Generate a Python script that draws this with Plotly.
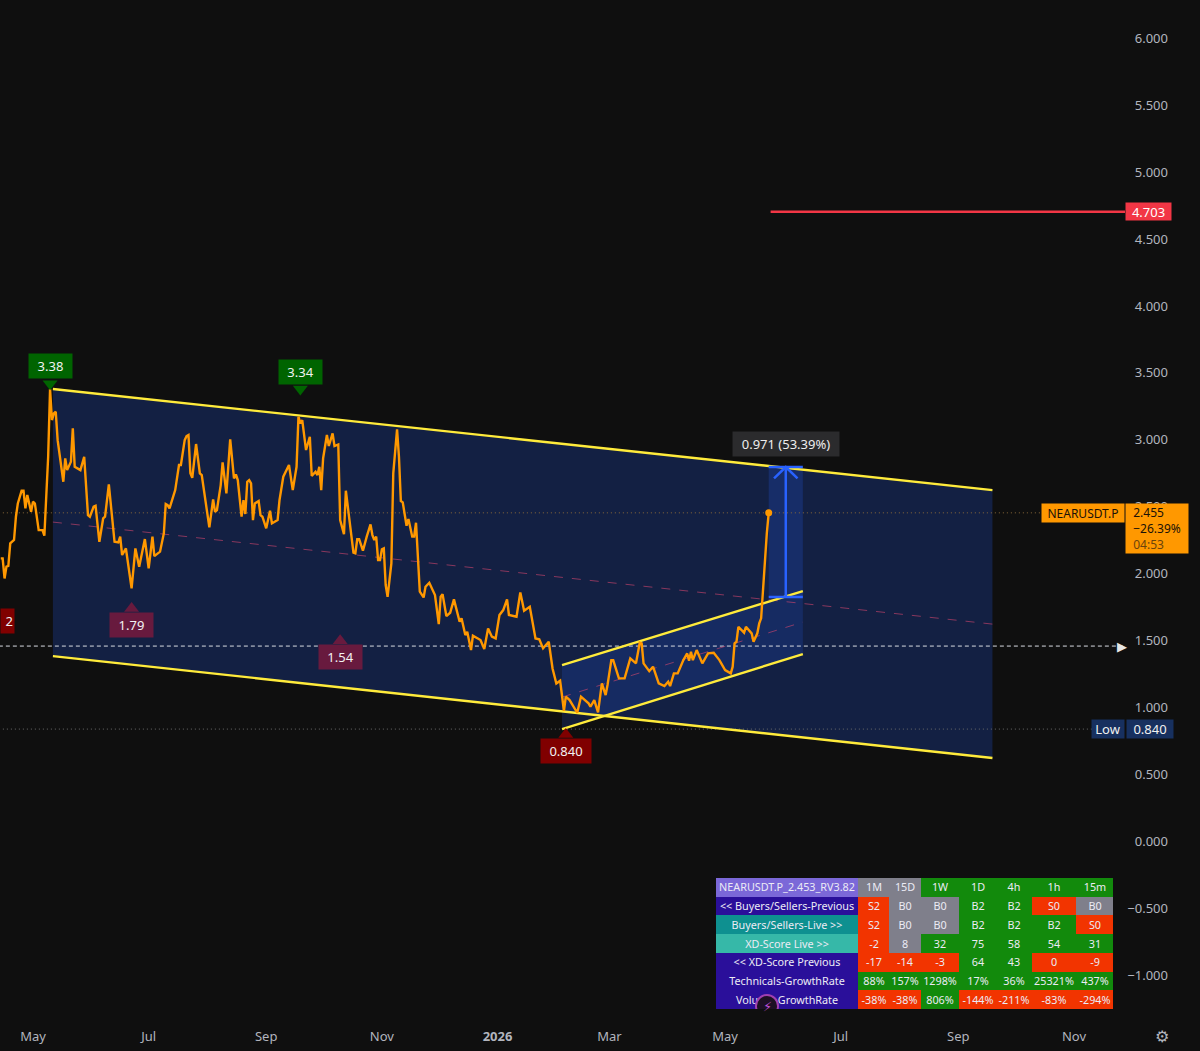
import pandas as pd
import plotly.graph_objects as go

# chart dimensions
W = 1200
H = 1051
START = pd.Timestamp("2025-05-01")

BG = "#0f0f0f"
ORANGE = "#ff9800"
YELLOW = "#ffeb3b"
BLUE = "#2962ff"
AXIS_TEXT = "#b2b5be"
FONT = "Noto Sans"

# closing price, day = days since 2025-05-01
line_days = [
    -17, -16, -15, -14, -13, -12, -10, -9, -8, -6, -5, -4, -3, -1, 0, 1, 3, 5, 6, 8, 9, 10, 11, 12, 13, 16, 17, 18,
    20, 21, 22, 25, 27, 29, 30, 32, 33, 35, 37, 38, 40, 43, 45, 46, 47, 49, 52, 54, 56, 59, 61, 63, 64, 67, 69, 70,
    71, 72, 75, 77, 78, 80, 81, 82, 83, 84, 86, 88, 89, 93, 95, 96, 97, 99, 100, 102, 104, 106, 107, 108, 110, 111,
    112, 113, 114, 115, 116, 117, 119, 120, 121, 123, 125, 126, 129, 130, 132, 135, 137, 139, 140, 141, 142, 144,
    146, 147, 149, 150, 151, 152, 153, 155, 156, 158, 159, 161, 162, 164, 165, 167, 169, 170, 171, 172, 174, 176,
    178, 179, 180, 181, 182, 183, 184, 185, 186, 187, 189, 190, 192, 193, 194, 195, 197, 198, 200, 201, 202, 204,
    206, 207, 209, 212, 214, 215, 216, 218, 220, 222, 225, 226, 228, 229, 231, 232, 236, 238, 240, 242, 244, 246,
    248, 250, 251, 255, 257, 259, 262, 265, 267, 269, 272, 274, 276, 278, 279, 280, 281, 283, 287, 289, 293, 294,
    296, 298, 300, 302, 303, 305, 306, 309, 312, 315, 318, 320, 321, 322, 325, 327, 330, 333, 335, 336, 338, 340,
    343, 345, 346, 347, 348, 350, 353, 356, 359, 362, 365, 368, 369, 370, 371, 372, 375, 376, 379, 380, 382, 383,
    384, 385, 386, 387, 388,
]
line_prices = [
    2.115, 2.115, 1.965, 2.053, 2.058, 2.227, 2.252, 2.426, 2.525, 2.620, 2.620, 2.488, 2.588, 2.463, 2.538, 2.525,
    2.326, 2.326, 2.284, 2.874, 3.380, 3.148, 3.198, 3.210, 2.998, 2.687, 2.862, 2.774, 2.837, 3.086, 2.799, 2.774,
    2.874, 2.438, 2.426, 2.501, 2.508, 2.239, 2.413, 2.426, 2.667, 2.239, 2.234, 2.277, 2.140, 2.189, 1.891, 2.189,
    2.053, 2.259, 2.040, 2.277, 2.132, 2.165, 2.301, 2.521, 2.513, 2.488, 2.625, 2.812, 2.812, 2.998, 3.028, 3.036,
    2.750, 2.717, 2.969, 2.750, 2.737, 2.346, 2.555, 2.463, 2.476, 2.662, 2.832, 2.600, 3.004, 2.712, 2.742, 2.700,
    2.426, 2.550, 2.446, 2.687, 2.700, 2.675, 2.401, 2.525, 2.543, 2.438, 2.426, 2.339, 2.471, 2.376, 2.401, 2.550,
    2.725, 2.812, 2.625, 2.799, 3.173, 3.123, 3.148, 2.924, 3.023, 2.730, 2.762, 2.737, 2.799, 2.625, 2.862, 3.036,
    2.954, 3.048, 2.954, 2.966, 2.401, 2.296, 2.620, 2.389, 2.157, 2.152, 2.259, 2.259, 2.172, 2.277, 2.369, 2.289,
    2.252, 2.277, 2.102, 2.102, 2.182, 2.189, 1.916, 1.828, 2.077, 2.750, 3.078, 2.874, 2.543, 2.533, 2.359, 2.409,
    2.277, 2.277, 2.381, 1.866, 1.823, 1.903, 1.933, 1.841, 1.624, 1.828, 1.848, 1.684, 1.709, 1.809, 1.642, 1.667,
    1.542, 1.567, 1.430, 1.537, 1.505, 1.438, 1.592, 1.530, 1.517, 1.692, 1.729, 1.809, 1.692, 1.679, 1.861, 1.724,
    1.754, 1.517, 1.510, 1.443, 1.492, 1.293, 1.181, 1.201, 1.082, 0.977, 1.082, 1.057, 0.962, 1.082, 1.032, 1.007,
    1.057, 0.965, 1.181, 1.094, 1.169, 1.355, 1.355, 1.219, 1.219, 1.368, 1.331, 1.485, 1.480, 1.331, 1.273, 1.306,
    1.181, 1.161, 1.194, 1.161, 1.256, 1.256, 1.355, 1.405, 1.351, 1.418, 1.355, 1.430, 1.331, 1.405, 1.410, 1.355,
    1.281, 1.256, 1.306, 1.480, 1.492, 1.604, 1.560, 1.604, 1.555, 1.492, 1.555, 1.629, 1.667, 1.903, 2.077, 2.301,
    2.455,
]

# big falling channel
big_days = [10.5, 506]
big_top = [3.38, 2.625]
big_bottom = [1.385, 0.624]
big_mid = [2.386, 1.624]

# small rising channel
small_days = [279, 406]
small_top = [1.318, 1.87]
small_bottom = [0.84, 1.40]
small_mid = [1.079, 1.639]

# price range tool
range_days = [388, 406]
range_low = 1.826
range_high = 2.797

last_price = 2.455
alert_price = 4.703
alert_start_day = 389
dashed_price = 1.46
low_price = 0.84

# high / low flags
flag_text = ["3.38", "3.34", "1.79", "1.54", "0.840"]
flag_days = [9, 141, 52, 162, 281]
flag_prices = [3.55, 3.505, 1.62, 1.38, 0.68]
flag_tip_prices = [3.42, 3.38, 1.74, 1.50, 0.80]
flag_up = [False, False, True, True, True]
flag_colors = ["#006400", "#006400", "#681a3e", "#681a3e", "#800000"]
flag_widths = [41, 41, 41, 41, 48]

# x ticks
xtick_dates = ["2025-05-01", "2025-07-01", "2025-09-01", "2025-11-01", "2026-01-01",
               "2026-03-01", "2026-05-01", "2026-07-01", "2026-09-01", "2026-11-01"]
xtick_text = ["May", "Jul", "Sep", "Nov", "<b>2026</b>", "Mar", "May", "Jul", "Sep", "Nov"]

# y ticks
ytick_vals = [6, 5.5, 5, 4.5, 4, 3.5, 3, 2.5, 2, 1.5, 1, 0.5, 0, -0.5, -1]
ytick_text = ["6.000", "5.500", "5.000", "4.500", "4.000", "3.500", "3.000", "2.500", "2.000", "1.500",
              "1.000", "0.500", "0.000", "\u22120.500", "\u22121.000"]

# table
table_text = [
    ["NEARUSDT.P_2.453_RV3.82", "1M", "15D", "1W", "1D", "4h", "1h", "15m"],
    ["&lt;&lt; Buyers/Sellers-Previous", "S2", "B0", "B0", "B2", "B2", "S0", "B0"],
    ["Buyers/Sellers-Live &gt;&gt;", "S2", "B0", "B0", "B2", "B2", "B2", "S0"],
    ["XD-Score Live &gt;&gt;", "-2", "8", "32", "75", "58", "54", "31"],
    ["&lt;&lt; XD-Score Previous", "-17", "-14", "-3", "64", "43", "0", "-9"],
    ["Technicals-GrowthRate", "88%", "157%", "1298%", "17%", "36%", "25321%", "437%"],
    ["Volume-GrowthRate", "-38%", "-38%", "806%", "-144%", "-211%", "-83%", "-294%"],
]
table_state = [
    ["head", "grey", "grey", "up", "up", "up", "up", "up"],
    ["navy", "down", "grey", "grey", "up", "up", "down", "grey"],
    ["teal", "down", "grey", "grey", "up", "up", "up", "down"],
    ["aqua", "down", "grey", "up", "up", "up", "up", "up"],
    ["navy", "down", "down", "down", "up", "up", "down", "down"],
    ["navy", "up", "up", "up", "up", "up", "up", "up"],
    ["navy", "down", "down", "up", "down", "down", "down", "down"],
]
state_colors = {
    "head": "#7b68d8",
    "navy": "#2a0f9a",
    "teal": "#0e9090",
    "aqua": "#36b8a8",
    "grey": "#7f7f8b",
    "down": "#f23400",
    "up": "#128a0c",
}
col_edges = [0, 142, 173, 205, 243, 280, 316, 360, 397]
row_edges = [0, 1, 2, 3, 4, 5, 6, 7]


def to_date(day):
    return START + pd.Timedelta(days=day)


def to_dates(days):
    return [to_date(d) for d in days]


fig = go.Figure()

# channel fills
fig.add_trace(go.Scatter(
    x=to_dates(big_days + big_days[::-1]), y=big_top + big_bottom[::-1],
    mode="lines", line=dict(width=0), fill="toself", fillcolor="#132043", hoverinfo="skip",
))
fig.add_trace(go.Scatter(
    x=to_dates(small_days + small_days[::-1]), y=small_top + small_bottom[::-1],
    mode="lines", line=dict(width=0), fill="toself", fillcolor="rgba(41,98,255,0.17)", hoverinfo="skip",
))
fig.add_trace(go.Scatter(
    x=to_dates([range_days[0], range_days[1], range_days[1], range_days[0]]),
    y=[range_low, range_low, range_high, range_high],
    mode="lines", line=dict(width=0), fill="toself", fillcolor="rgba(41,98,255,0.2)", hoverinfo="skip",
))

# horizontal levels
for price, color, dash in [(last_price, "#8a6a3a", "1px,3px"), (low_price, "#6a6a6a", "1px,3px"), (dashed_price, "#d8dbe2", "4px,3px")]:
    fig.add_trace(go.Scatter(
        x=to_dates([-18, 576]), y=[price, price], mode="lines",
        line=dict(color=color, width=1, dash=dash), hoverinfo="skip",
    ))
fig.add_trace(go.Scatter(
    x=to_dates([alert_start_day, 576]), y=[alert_price, alert_price], mode="lines",
    line=dict(color="#f23645", width=2.5), hoverinfo="skip",
))

# channel lines
for days, top, bottom, mid in [(big_days, big_top, big_bottom, big_mid), (small_days, small_top, small_bottom, small_mid)]:
    fig.add_trace(go.Scatter(x=to_dates(days), y=mid, mode="lines",
                             line=dict(color="rgba(214,70,110,0.6)", width=1, dash="dash"), hoverinfo="skip"))
    fig.add_trace(go.Scatter(x=to_dates(days), y=top, mode="lines", line=dict(color=YELLOW, width=2.4), hoverinfo="skip"))
    fig.add_trace(go.Scatter(x=to_dates(days), y=bottom, mode="lines", line=dict(color=YELLOW, width=2.4), hoverinfo="skip"))

# price line
fig.add_trace(go.Scatter(
    x=to_dates(line_days), y=line_prices, mode="lines",
    line=dict(color=ORANGE, width=2.4), hoverinfo="skip",
))
fig.add_trace(go.Scatter(
    x=[to_date(line_days[-1])], y=[line_prices[-1]], mode="markers",
    marker=dict(color=ORANGE, size=7), hoverinfo="skip",
))

# measure arrow
mid_day = (range_days[0] + range_days[1]) / 2
for xs, ys in [
    ([mid_day, mid_day], [range_low, range_high]),
    (range_days, [range_low, range_low]),
    (range_days, [range_high, range_high]),
    ([mid_day - 6.2, mid_day, mid_day + 6.2], [range_high - 0.085, range_high, range_high - 0.085]),
]:
    fig.add_trace(go.Scatter(x=to_dates(xs), y=ys, mode="lines", line=dict(color=BLUE, width=2.5), hoverinfo="skip"))

# flag pointers
fig.add_trace(go.Scatter(
    x=to_dates(flag_days), y=flag_tip_prices, mode="markers", hoverinfo="skip",
    marker=dict(color=flag_colors, size=13, symbol=["triangle-up" if u else "triangle-down" for u in flag_up]),
))

# indicator table
codes = list(state_colors)
steps = len(codes) - 1
colorscale = []
for i, name in enumerate(codes):
    colorscale.append([i / (steps + 1), state_colors[name]])
    colorscale.append([(i + 1) / (steps + 1), state_colors[name]])
fig.add_trace(go.Heatmap(
    x=col_edges, y=row_edges, z=[[codes.index(s) for s in row] for row in table_state],
    zmin=-0.5, zmax=steps + 0.5, colorscale=colorscale, showscale=False,
    text=table_text, texttemplate="%{text}", textfont=dict(family=FONT, size=10.8, color="#ecebf5"),
    hoverinfo="skip", xaxis="x2", yaxis="y2",
))

# round badge over the table
fig.add_trace(go.Scatter(
    x=[51], y=[6.84], mode="markers", hoverinfo="skip", xaxis="x2", yaxis="y2",
    marker=dict(color="#1d1024", size=22, line=dict(color="#a040b0", width=2)),
))

annotations = []
for text, day, price, color, width in zip(flag_text, flag_days, flag_prices, flag_colors, flag_widths):
    annotations.append(dict(
        x=to_date(day), y=price, xref="x", yref="y", text=text, showarrow=False,
        bgcolor=color, width=width, height=22, font=dict(family=FONT, size=13, color="#f2f2f2"),
    ))
# flag cut off by the left edge
annotations.append(dict(
    x=to_date(-17.3), y=1.65, xref="x", yref="y", xanchor="left", text="2", showarrow=False, align="right",
    bgcolor="#800000", width=11, height=22, font=dict(family=FONT, size=13, color="#f2f2f2"),
))
annotations.append(dict(
    x=to_date(mid_day), y=2.969, xref="x", yref="y", text="0.971 (53.39%)", showarrow=False,
    bgcolor="#2b2b2d", width=104, height=22, font=dict(family=FONT, size=13, color="#eeeeee"),
))
annotations.append(dict(
    x=1125 / W, y=alert_price, xref="paper", yref="y", xanchor="left", text="4.703", showarrow=False,
    bgcolor="#f23645", width=43, height=15, font=dict(family=FONT, size=13, color="#ffffff"),
))
annotations.append(dict(
    x=1125 / W, y=last_price, xref="paper", yref="y", xanchor="right", text="NEARUSDT.P", showarrow=False,
    bgcolor=ORANGE, width=80, height=16, font=dict(family=FONT, size=12, color="#1a1208"),
))
annotations.append(dict(
    x=1125 / W, y=last_price, xref="paper", yref="y", xanchor="left", yanchor="top", yshift=10, showarrow=False,
    text="&nbsp;&nbsp;2.455<br>&nbsp;&nbsp;\u221226.39%<br><span style='color:#6b430c'>&nbsp;&nbsp;04:53</span>", align="left",
    bgcolor=ORANGE, width=60, height=47, font=dict(family=FONT, size=12, color="#1a1208"),
))
annotations.append(dict(
    x=1125 / W, y=low_price, xref="paper", yref="y", xanchor="right", text="Low", showarrow=False,
    bgcolor="#17305f", width=30, height=16, font=dict(family=FONT, size=13, color="#f0f0f0"),
))
annotations.append(dict(
    x=1125.5 / W, y=low_price, xref="paper", yref="y", xanchor="left", text="0.840", showarrow=False,
    bgcolor="#17305f", width=44, height=16, font=dict(family=FONT, size=13, color="#f0f0f0"),
))
# arrow next to the scale
annotations.append(dict(
    x=1129 / W, y=dashed_price, xref="paper", yref="y", text="\u25b6", showarrow=False,
    font=dict(family="DejaVu Sans", size=13, color="#e6e6e6"),
))
# icons
annotations.append(dict(
    x=51, y=6.84, xref="x2", yref="y2", text="\u26a1", showarrow=False,
    font=dict(family="DejaVu Sans", size=13, color="#c050d8"),
))
annotations.append(dict(
    x=1162 / W, y=1 - 1036 / H, xref="paper", yref="paper", xanchor="center", yanchor="middle",
    text="\u2699", showarrow=False, font=dict(family="DejaVu Sans", size=16, color=AXIS_TEXT),
))

fig.update_layout(
    width=W,
    height=H,
    margin=dict(l=0, r=0, t=0, b=0),
    paper_bgcolor=BG,
    plot_bgcolor=BG,
    showlegend=False,
    annotations=annotations,
    xaxis=dict(
        domain=[0, 1125 / W],
        range=[to_date(-17.4), to_date(575.9)],
        showgrid=False, zeroline=False, showline=False,
        tickmode="array", tickvals=xtick_dates, ticktext=xtick_text,
        ticks="outside", ticklen=1, tickcolor="rgba(0,0,0,0)",
        tickfont=dict(family=FONT, size=13, color=AXIS_TEXT),
    ),
    yaxis=dict(
        domain=[28 / H, 1],
        range=[-1.355, 6.285],
        anchor="free", position=1168 / W, side="left",
        showgrid=False, zeroline=False, showline=False,
        tickmode="array", tickvals=ytick_vals, ticktext=ytick_text,
        ticks="", tickfont=dict(family=FONT, size=13, color=AXIS_TEXT),
    ),
    xaxis2=dict(
        domain=[716 / W, 1113 / W], range=[0, 397], anchor="y2",
        visible=False, fixedrange=True,
    ),
    yaxis2=dict(
        domain=[(H - 1009) / H, (H - 878) / H], range=[7, 0], anchor="x2",
        visible=False, fixedrange=True,
    ),
)

fig.write_html("out.html", config=dict(displayModeBar=False),
               post_script="document.body.style.margin='0';document.body.style.background='#0f0f0f';")
